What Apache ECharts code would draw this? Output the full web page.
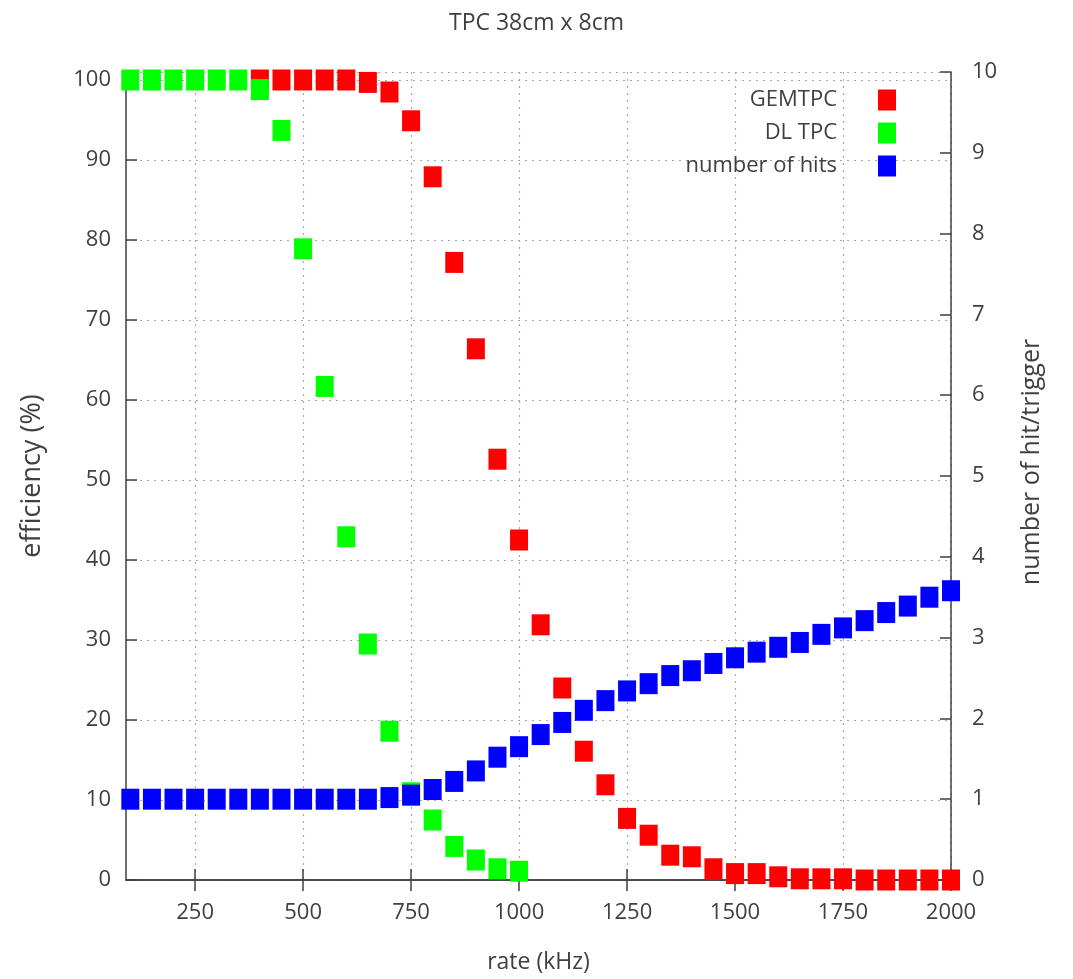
<!DOCTYPE html>
<html>
<head>
<meta charset="utf-8">
<title>TPC 38cm x 8cm</title>
<script src="https://cdn.jsdelivr.net/npm/echarts@6/dist/echarts.min.js"></script>
<style>
  html, body { margin: 0; padding: 0; background: #fff; }
  #chart { width: 1073px; height: 979px; }
</style>
</head>
<body>
<div id="chart"></div>
<script>
  // rate (kHz) for each measurement, 50 kHz apart
  const RATE_GEM = [400, 450, 500, 550, 600, 650, 700, 750, 800, 850, 900, 950, 1000,
    1050, 1100, 1150, 1200, 1250, 1300, 1350, 1400, 1450, 1500, 1550, 1600, 1650,
    1700, 1750, 1800, 1850, 1900, 1950, 2000];
  const EFF_GEM = [100, 100, 100, 100, 100, 99.7, 98.5, 94.9, 87.9, 77.2, 66.4, 52.6, 42.5,
    31.9, 24.0, 16.1, 11.9, 7.7, 5.6, 3.1, 2.9, 1.4, 0.8, 0.8, 0.4, 0.15,
    0.15, 0.15, 0, 0, 0, 0, 0];

  const RATE_DL = [100, 150, 200, 250, 300, 350, 400, 450, 500, 550, 600, 650, 700,
    750, 800, 850, 900, 950, 1000];
  const EFF_DL = [100, 100, 100, 100, 100, 100, 98.8, 93.7, 78.9, 61.7, 42.9, 29.5, 18.6,
    10.9, 7.5, 4.2, 2.5, 1.4, 1.1];

  const RATE_HITS = [100, 150, 200, 250, 300, 350, 400, 450, 500, 550, 600, 650, 700,
    750, 800, 850, 900, 950, 1000, 1050, 1100, 1150, 1200, 1250, 1300, 1350, 1400,
    1450, 1500, 1550, 1600, 1650, 1700, 1750, 1800, 1850, 1900, 1950, 2000];
  const HITS = [1, 1, 1, 1, 1, 1, 1, 1, 1, 1, 1, 1, 1.02,
    1.05, 1.12, 1.22, 1.35, 1.52, 1.65, 1.80, 1.95, 2.10, 2.22, 2.34, 2.43, 2.53, 2.59,
    2.68, 2.75, 2.82, 2.88, 2.94, 3.04, 3.12, 3.21, 3.31, 3.39, 3.50, 3.58];

  const X_TICKS = [250, 500, 750, 1000, 1250, 1500, 1750, 2000];

  const INK = "#404040";
  const GRID = "#a8a8a8";
  const FONT = "Open Sans";

  function pairs(xs, ys) {
    return xs.map((x, i) => [x, ys[i]]);
  }

  const inst = echarts.init(document.getElementById("chart"), null, { renderer: "canvas" });

  const markSeries = (name, data, color, yAxisIndex) => ({
    name, type: "scatter", data, yAxisIndex,
    symbol: "rect", symbolSize: [18, 21], clip: false,
    itemStyle: { color, opacity: 1 },
    emphasis: { disabled: true },
  });

  const border = { show: true, lineStyle: { color: INK, width: 1.5 } };
  const tick = (extra) => Object.assign(
    { show: true, inside: true, length: 11, lineStyle: { color: INK, width: 1.5 } }, extra);

  inst.setOption({
    animation: false,
    textStyle: { fontFamily: FONT, color: INK },
    title: {
      text: "TPC 38cm x 8cm", left: "center", top: 7,
      textStyle: { fontFamily: FONT, fontSize: 23, fontWeight: "normal", color: INK },
    },
    legend: {
      orient: "vertical", right: 172, top: 84, align: "right",
      itemWidth: 18, itemHeight: 21, itemGap: 11,
      icon: "rect",
      textStyle: { fontFamily: FONT, fontSize: 22, color: INK, padding: [0, 36, 0, 0] },
      data: ["GEMTPC", "DL TPC", "number of hits"],
    },
    grid: { left: 126, right: 122, top: 72, bottom: 96 },
    xAxis: [{
      type: "value", min: 90, max: 2000, position: "bottom",
      name: "rate (kHz)", nameLocation: "middle", nameGap: 71,
      nameTextStyle: { fontFamily: FONT, fontSize: 23, color: INK },
      axisLine: border,
      axisTick: tick({ customValues: X_TICKS }),
      axisLabel: {
        customValues: X_TICKS, fontFamily: FONT, fontSize: 22, color: INK, margin: 22,
        formatter: (v) => String(v),
      },
      splitLine: { show: true, lineStyle: { color: GRID, type: [2, 5], width: 1.2 } },
    }, {
      type: "value", min: 90, max: 2000, position: "top",
      axisLine: border,
      axisTick: tick({ customValues: X_TICKS }),
      axisLabel: { show: false },
      splitLine: { show: false },
    }],
    yAxis: [{
      type: "value", min: 0, max: 101, interval: 10, position: "left",
      name: "efficiency (%)", nameLocation: "middle", nameGap: 80,
      nameTextStyle: { fontFamily: FONT, fontSize: 27, color: INK },
      axisLine: border,
      axisTick: tick({}),
      axisLabel: {
        fontFamily: FONT, fontSize: 22, color: INK, margin: 15,
        formatter: (v) => (v > 100 ? "" : String(v)),
      },
      splitLine: { show: true, lineStyle: { color: GRID, type: [2, 5], width: 1.2 } },
    }, {
      type: "value", min: 0, max: 10, interval: 1, position: "right",
      name: "number of hit/trigger", nameLocation: "middle", nameGap: 68,
      nameTextStyle: { fontFamily: FONT, fontSize: 25, color: INK, padding: [0, 0, 0, 28] },
      axisLine: border,
      axisTick: tick({}),
      axisLabel: { fontFamily: FONT, fontSize: 22, color: INK, margin: 21 },
      splitLine: { show: false },
    }],
    series: [
      markSeries("GEMTPC", pairs(RATE_GEM, EFF_GEM), "#ff0000", 0),
      markSeries("DL TPC", pairs(RATE_DL, EFF_DL), "#00ff00", 0),
      markSeries("number of hits", pairs(RATE_HITS, HITS), "#0000ff", 1),
    ],
  });

  window.addEventListener("resize", () => inst.resize());
</script>
</body>
</html>
